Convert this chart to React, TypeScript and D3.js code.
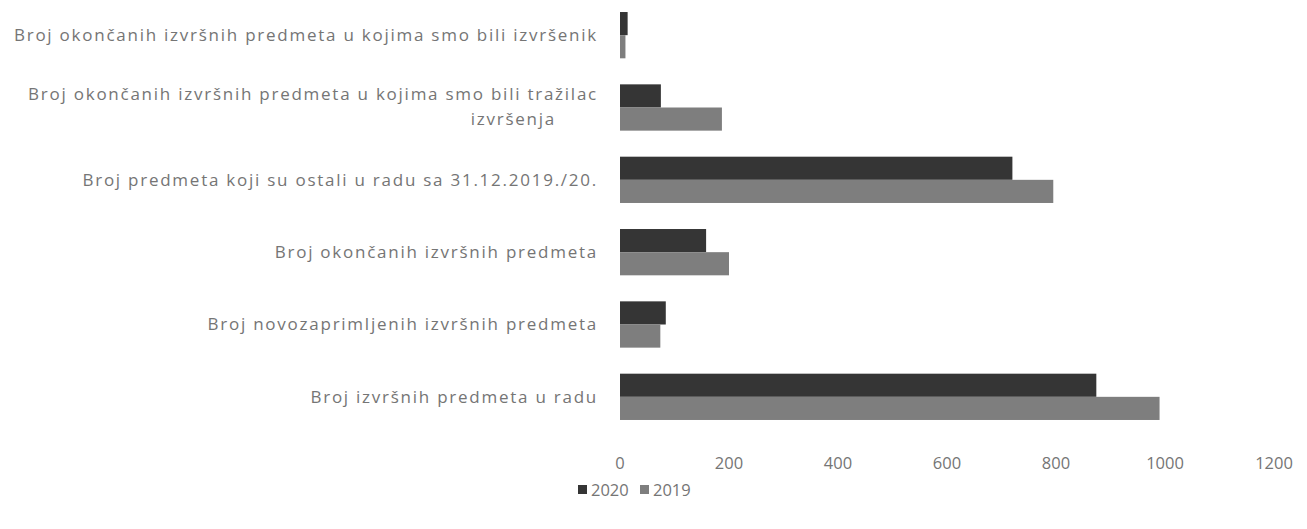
import * as d3 from "d3";
import {useEffect, useRef} from "react";

const categories = [
    "Broj okončanih izvršnih predmeta u kojima smo bili izvršenik",
    "Broj okončanih izvršnih predmeta u kojima smo bili tražilac|izvršenja",
    "Broj predmeta koji su ostali u radu sa 31.12.2019./20.",
    "Broj okončanih izvršnih predmeta",
    "Broj novozaprimljenih izvršnih predmeta",
    "Broj izvršnih predmeta u radu",
];
const values2020 = [14, 75, 720, 158, 84, 874];
const values2019 = [10, 187, 795, 200, 74, 990];
const seriesNames = ["2020", "2019"];
const xTicks = [0, 200, 400, 600, 800, 1000, 1200];

const App = () => {
    const svgRef = useRef(null);

    useEffect(() => {
        if (!svgRef.current) return;
        const width = 1307, height = 529;
        d3.select(svgRef.current).selectAll("*").remove();

        const svg = d3.select(svgRef.current)
            .attr("width", width)
            .attr("height", height)
            .style("position", "absolute")
            .style("left", 0)
            .style("top", 0)
            .style("font-family", "'Open Sans', sans-serif");

        const colors = ["#353535", "#7e7e7e"];
        const textColor = "#757575";

        const xScale = d3.scaleLinear().domain([0, 1200]).range([620, 1274]);
        const yScale = d3.scaleBand<number>()
            .domain(d3.range(categories.length))
            .range([-1, 433])
            .paddingInner(0.36)
            .paddingOuter(0.18);
        const sub = d3.scaleBand<number>().domain([0, 1]).range([0, yScale.bandwidth()]);

        const rows = [values2020, values2019];
        rows.forEach((vals, si) => {
            svg.append("g")
                .selectAll("rect")
                .data(vals)
                .enter()
                .append("rect")
                .attr("x", xScale(0))
                .attr("y", (d, i) => (yScale(i) ?? 0) + (sub(si) ?? 0))
                .attr("width", d => xScale(d) - xScale(0))
                .attr("height", sub.bandwidth())
                .attr("fill", colors[si]);
        });

        // category labels (scanned Calibri Light is wide, so space the letters out)
        const labels = svg.append("g")
            .attr("fill", textColor)
            .attr("font-size", 17)
            .attr("letter-spacing", 1.75)
            .attr("text-anchor", "end");
        categories.forEach((c, i) => {
            const lines = c.split("|");
            const cy = (yScale(i) ?? 0) + yScale.bandwidth() / 2;
            if (lines.length === 1) {
                labels.append("text").attr("x", 598).attr("y", cy).attr("dy", "0.35em").text(lines[0]);
            } else {
                labels.append("text").attr("x", 598).attr("y", cy - 13).attr("dy", "0.35em").text(lines[0]);
                labels.append("text").attr("x", 556).attr("y", cy + 12).attr("dy", "0.35em").text(lines[1]);
            }
        });

        // x axis labels
        svg.append("g")
            .selectAll("text")
            .data(xTicks)
            .enter()
            .append("text")
            .attr("x", d => xScale(d))
            .attr("y", 463)
            .attr("dy", "0.35em")
            .attr("text-anchor", "middle")
            .attr("font-size", 16.5)
            .attr("fill", textColor)
            .text(d => d);

        // legend
        const legend = svg.append("g").attr("font-size", 16.5).attr("fill", textColor);
        const legendX = [578, 640];
        seriesNames.forEach((s, i) => {
            legend.append("rect").attr("x", legendX[i]).attr("y", 485)
                .attr("width", 9).attr("height", 9).attr("fill", colors[i]);
            legend.append("text").attr("x", legendX[i] + 13).attr("y", 490)
                .attr("dy", "0.35em").text(s);
        });
    }, []);

    return <svg ref={svgRef}></svg>;
};

export default App;
